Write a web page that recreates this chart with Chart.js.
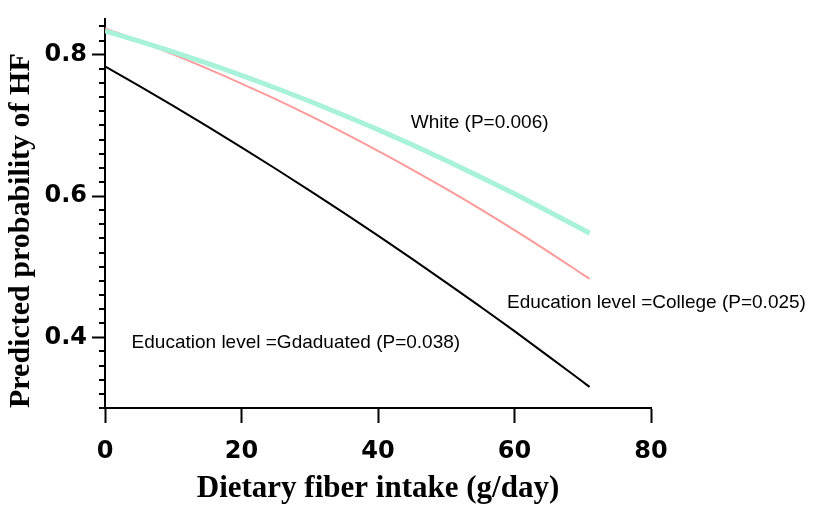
<!DOCTYPE html>
<html>
<head>
<meta charset="utf-8">
<script src="https://cdn.jsdelivr.net/npm/chart.js@4.4.1/dist/chart.umd.min.js"></script>
<style>
  html, body { margin: 0; padding: 0; background: #ffffff; }
  #wrap { width: 813px; height: 508px; position: relative; }
</style>
</head>
<body>
<div id="wrap"><canvas id="c"></canvas></div>
<script>
// ---- data ----
const fiberIntake = [0, 5, 10, 15, 20, 25, 30, 35, 40, 45, 50, 55, 60, 65, 70, 71];
const whiteProb = [0.8336, 0.8192, 0.8039, 0.7877, 0.7708, 0.7529, 0.7341, 0.7144, 0.6940, 0.6726, 0.6503, 0.6271, 0.6031, 0.5782, 0.5526, 0.5474];
const collegeProb = [0.8373, 0.8194, 0.8004, 0.7803, 0.7592, 0.7371, 0.7138, 0.6894, 0.6640, 0.6375, 0.6100, 0.5814, 0.5517, 0.5210, 0.4892, 0.4828];
const graduatedProb = [0.7836, 0.7559, 0.7276, 0.6985, 0.6688, 0.6386, 0.6077, 0.5761, 0.5439, 0.5111, 0.4775, 0.4434, 0.4088, 0.3731, 0.3371, 0.3299];

const xTickValues = [0, 20, 40, 60, 80];
const yTickValues = [0.30, 0.32, 0.34, 0.36, 0.38, 0.40, 0.42, 0.44, 0.46, 0.48, 0.50, 0.52, 0.54, 0.56, 0.58, 0.60, 0.62, 0.64, 0.66, 0.68, 0.70, 0.72, 0.74, 0.76, 0.78, 0.80, 0.82, 0.84];
const yMajorTicks = [0.4, 0.6, 0.8];

const seriesNames = ['White (P=0.006)', 'Education level =College (P=0.025)', 'Education level =Gdaduated (P=0.038)'];
const labelAnchorX = [44.8, 58.9, 3.9];
const labelAnchorY = [0.6965, 0.442, 0.385];

const xTitle = 'Dietary fiber intake (g/day)';
const yTitle = 'Predicted probability of HF';

// ---- helpers ----
const isMajor = v => yMajorTicks.some(m => Math.abs(m - v) < 1e-9);
const toPoints = ys => fiberIntake.map((x, i) => ({ x: x, y: ys[i] }));

const minorTickPlugin = {
  id: 'minorTicks',
  afterDraw(chart) {
    const ys = chart.scales.y;
    const ctx = chart.ctx;
    ctx.save();
    ctx.strokeStyle = '#000000';
    ctx.lineWidth = 2;
    ctx.beginPath();
    yTickValues.forEach(v => {
      if (isMajor(v)) return;
      const py = Math.round(ys.getPixelForValue(v));
      ctx.moveTo(ys.right - 6, py);
      ctx.lineTo(ys.right, py);
    });
    ctx.stroke();
    ctx.restore();
  }
};

const seriesLabelPlugin = {
  id: 'seriesLabels',
  afterDatasetsDraw(chart) {
    const ctx = chart.ctx;
    const xs = chart.scales.x, ys = chart.scales.y;
    ctx.save();
    ctx.fillStyle = '#000000';
    ctx.font = "19px 'Liberation Sans', Arial, sans-serif";
    ctx.textAlign = 'left';
    ctx.textBaseline = 'alphabetic';
    seriesNames.forEach((t, i) => {
      ctx.fillText(t, xs.getPixelForValue(labelAnchorX[i]), ys.getPixelForValue(labelAnchorY[i]));
    });
    ctx.restore();
  }
};

new Chart(document.getElementById('c'), {
  type: 'line',
  data: {
    datasets: [
      { label: seriesNames[0], data: toPoints(whiteProb), borderColor: '#a8f2d9', borderWidth: 5, pointRadius: 0, cubicInterpolationMode: 'monotone', fill: false },
      { label: seriesNames[1], data: toPoints(collegeProb), borderColor: '#ff9a9a', borderWidth: 2, pointRadius: 0, cubicInterpolationMode: 'monotone', fill: false },
      { label: seriesNames[2], data: toPoints(graduatedProb), borderColor: '#000000', borderWidth: 2, pointRadius: 0, cubicInterpolationMode: 'monotone', fill: false }
    ]
  },
  options: {
    responsive: true,
    maintainAspectRatio: false,
    animation: false,
    layout: { padding: { left: 0, right: 162, top: 14, bottom: 0 } },
    plugins: { legend: { display: false }, tooltip: { enabled: false } },
    scales: {
      x: {
        type: 'linear',
        min: 0,
        max: 80,
        afterBuildTicks: s => { s.ticks = xTickValues.map(v => ({ value: v })); },
        afterFit: s => { s.height = 100; },
        border: { display: true, color: '#000000', width: 2 },
        grid: { display: true, drawOnChartArea: false, drawTicks: true, tickLength: 15, tickWidth: 2, tickColor: '#000000' },
        ticks: {
          color: '#000000',
          padding: 14,
          maxRotation: 0,
          autoSkip: false,
          font: { family: "'DejaVu Sans', sans-serif", size: 24, weight: 'bold' },
          callback: v => String(v)
        },
        title: {
          display: true,
          text: xTitle,
          color: '#000000',
          padding: { top: 0, bottom: 0 },
          font: { family: "'Liberation Serif', 'Times New Roman', serif", size: 31, weight: 'bold' }
        }
      },
      y: {
        type: 'linear',
        min: 0.3,
        max: 0.85,
        afterBuildTicks: s => { s.ticks = yTickValues.map(v => ({ value: v })); },
        afterFit: s => { s.width = 105; },
        border: { display: true, color: '#000000', width: 2 },
        grid: {
          display: true,
          drawOnChartArea: false,
          drawTicks: true,
          tickLength: 13,
          tickWidth: 2,
          tickColor: c => (c.tick && isMajor(c.tick.value)) ? '#000000' : 'rgba(0,0,0,0)'
        },
        ticks: {
          color: '#000000',
          padding: 5,
          autoSkip: false,
          font: { family: "'DejaVu Sans', sans-serif", size: 24, weight: 'bold' },
          callback: v => isMajor(v) ? Number(v).toFixed(1) : ''
        },
        title: {
          display: true,
          text: yTitle,
          align: 'start',
          color: '#000000',
          padding: { top: 3, bottom: 0 },
          font: { family: "'Liberation Serif', 'Times New Roman', serif", size: 30, weight: 'bold' }
        }
      }
    }
  },
  plugins: [minorTickPlugin, seriesLabelPlugin]
});
</script>
</body>
</html>
